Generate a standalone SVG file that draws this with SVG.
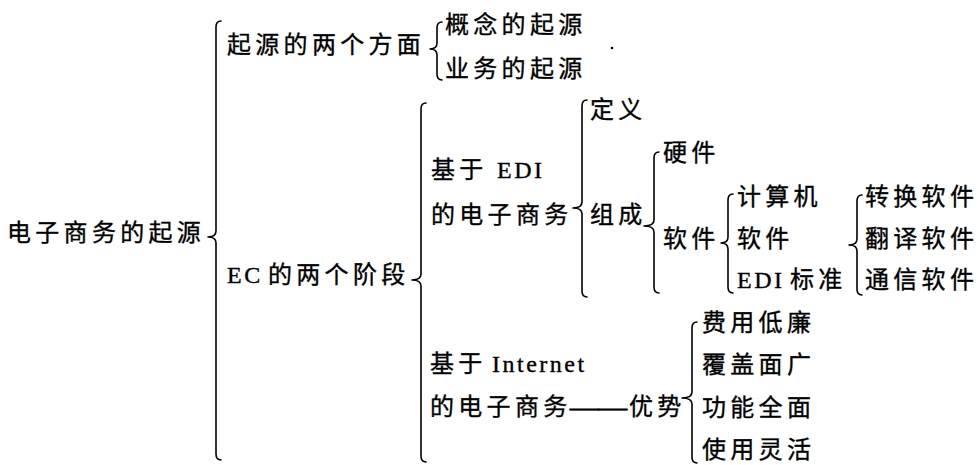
<svg xmlns="http://www.w3.org/2000/svg" width="977" height="465" viewBox="0 0 977 465">
<style>
.t{font-family:"Liberation Serif","Noto Sans CJK SC",serif;font-size:24px;letter-spacing:4.3px;fill:#000;stroke:#000;stroke-width:0.35}
.lat{letter-spacing:2.5px}
.br{fill:none;stroke:#000;stroke-width:1.6;stroke-linecap:round;stroke-linejoin:round}
</style>
<rect width="977" height="465" fill="#fff"/>
<g id="connectors">
<path class="br" d="M221,21 Q216,21 216,27 L216,231 Q216,237 208,237 Q216,237 216,243 L216,454 Q216,460 221,460"/>
<path class="br" d="M442,22 Q437,22 437,28 L437,43 Q437,49 430,49 Q437,49 437,55 L437,74 Q437,80 442,80"/>
<path class="br" d="M426,103 Q421,103 421,109 L421,274 Q421,280 412,280 Q421,280 421,286 L421,456 Q421,462 426,462"/>
<path class="br" d="M587,100 Q582,100 582,106 L582,202 Q582,208 573,208 Q582,208 582,214 L582,291 Q582,297 587,297"/>
<path class="br" d="M659,152 Q654,152 654,158 L654,220 Q654,226 644,226 Q654,226 654,232 L654,287 Q654,293 659,293"/>
<path class="br" d="M733,194 Q728,194 728,200 L728,237 Q728,243 721,243 Q728,243 728,249 L728,287 Q728,293 733,293"/>
<path class="br" d="M862,195 Q857,195 857,201 L857,239 Q857,245 849,245 Q857,245 857,251 L857,289 Q857,295 862,295"/>
<path class="br" d="M697,322 Q692,322 692,328 L692,392 Q692,398 682,398 Q692,398 692,404 L692,457 Q692,463 697,463"/>
</g>
<g id="n-root"><text class="t" x="7" y="241">电子商务的起源</text></g>
<g id="n-aspects"><text class="t" x="227" y="53">起源的两个方面</text></g>
<g id="n-concept"><text class="t" x="445" y="33">概念的起源</text></g>
<g id="n-business"><text class="t" x="445" y="77">业务的起源</text></g>
<circle cx="612" cy="48" r="1.3" fill="#000"/>
<g id="n-ec"><text class="t" x="227" y="283"><tspan class="lat">EC</tspan><tspan x="268">的两个阶段</tspan></text></g>
<g id="n-edi"><text class="t" x="431" y="178">基于<tspan class="lat" x="497">EDI</tspan></text><text class="t" x="431" y="223">的电子商务</text></g>
<g id="n-def"><text class="t" x="590" y="118">定义</text></g>
<g id="n-comp"><text class="t" x="590" y="223">组成</text></g>
<g id="n-hw"><text class="t" x="663" y="161">硬件</text></g>
<g id="n-sw"><text class="t" x="663" y="247">软件</text></g>
<g id="n-computer"><text class="t" x="737" y="205">计算机</text></g>
<g id="n-sw2"><text class="t" x="737" y="247">软件</text></g>
<g id="n-edistd"><text class="t" x="737" y="288"><tspan class="lat">EDI</tspan><tspan x="790">标准</tspan></text></g>
<g id="n-conv"><text class="t" x="865" y="205">转换软件</text></g>
<g id="n-trans"><text class="t" x="865" y="247">翻译软件</text></g>
<g id="n-comm"><text class="t" x="865" y="288">通信软件</text></g>
<g id="n-internet"><text class="t" x="430" y="372">基于<tspan class="lat" x="492">Internet</tspan></text><text class="t" x="430" y="415">的电子商务<tspan x="570" style="letter-spacing:0;stroke-width:0.8" textLength="57" lengthAdjust="spacingAndGlyphs">——</tspan><tspan x="629">优势</tspan></text></g>
<g id="n-cost"><text class="t" x="702" y="331">费用低廉</text></g>
<g id="n-cover"><text class="t" x="702" y="373">覆盖面广</text></g>
<g id="n-func"><text class="t" x="702" y="416">功能全面</text></g>
<g id="n-flex"><text class="t" x="702" y="458">使用灵活</text></g>
</svg>
